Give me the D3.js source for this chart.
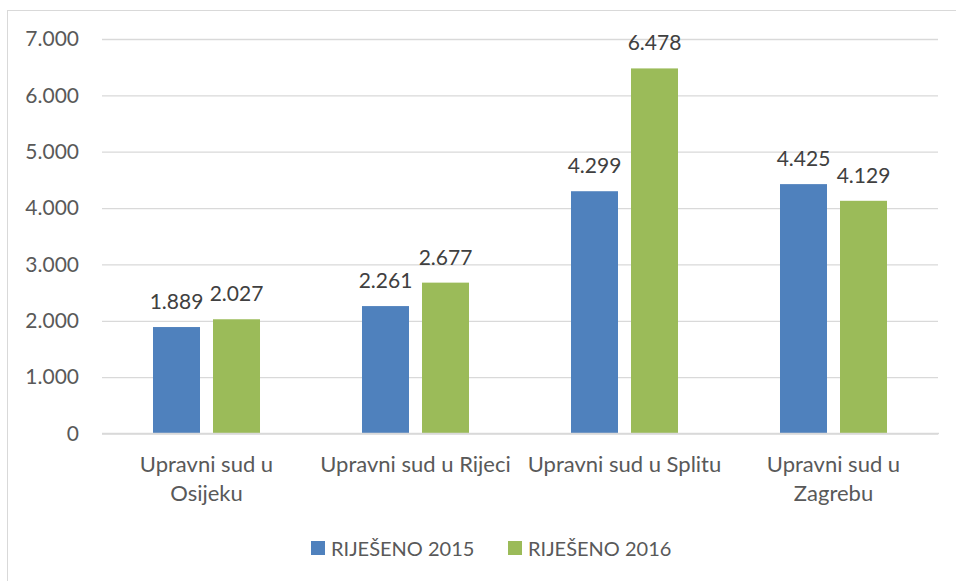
<!DOCTYPE html>
<html>
<head>
<meta charset="utf-8">
<script src="https://cdn.jsdelivr.net/npm/d3@7"></script>
<style>
  html, body { margin: 0; padding: 0; background: #fff; overflow: hidden; }
  svg { display: block; font-family: Lato, "Open Sans", sans-serif; }
</style>
</head>
<body>
<svg id="chart" width="956" height="581"></svg>
<script>
// ---- data ----
const categories = ["Upravni sud u Osijeku", "Upravni sud u Rijeci", "Upravni sud u Splitu", "Upravni sud u Zagrebu"];
const categoryLines = [["Upravni sud u", "Osijeku"], ["Upravni sud u Rijeci"], ["Upravni sud u Splitu"], ["Upravni sud u", "Zagrebu"]];
const seriesNames = ["RIJEŠENO 2015", "RIJEŠENO 2016"];
const values2015 = [1889, 2261, 4299, 4425];
const values2016 = [2027, 2677, 6478, 4129];
const yTicks = [0, 1000, 2000, 3000, 4000, 5000, 6000, 7000];
const colors = ["#4F81BD", "#9BBB59"];

// ---- layout ----
const svg = d3.select("#chart");
const plot = { left: 102, right: 938, top: 39, bottom: 433.5 };

svg.append("rect")
  .attr("x", 7.5).attr("y", 10.5)
  .attr("width", 1000).attr("height", 700)
  .attr("fill", "#fff").attr("stroke", "#D9D9D9").attr("stroke-width", 1);

const x0 = d3.scaleBand().domain(categories).range([plot.left, plot.right])
  .paddingInner(0.488).paddingOuter(0.244);
const x1 = d3.scaleBand().domain(seriesNames).range([0, x0.bandwidth()])
  .paddingInner(0.2167).paddingOuter(0);
const y = d3.scaleLinear().domain([0, 7000]).range([plot.bottom, plot.top]);

const fmt = v => d3.format(",")(v).replace(/,/g, ".");

// gridlines + y tick labels
const yAxis = d3.axisLeft(y).tickValues(yTicks).tickFormat(fmt)
  .tickSize(-(plot.right - plot.left)).tickPadding(23);
const gy = svg.append("g").attr("transform", `translate(${plot.left},0)`).call(yAxis);
gy.select(".domain").remove();
gy.selectAll(".tick line").attr("stroke", "#D9D9D9").attr("stroke-width", 1.3);
gy.selectAll(".tick text").attr("fill", "#595959").attr("font-size", 21)
  .attr("font-family", "Lato, 'Open Sans', sans-serif");

// bars
const rows = categories.map((c, i) => ({ cat: c, vals: [values2015[i], values2016[i]] }));
const groups = svg.append("g").selectAll("g").data(rows).join("g")
  .attr("transform", d => `translate(${x0(d.cat)},0)`);

groups.selectAll("rect").data(d => d.vals.map((v, j) => ({ s: seriesNames[j], v, j })))
  .join("rect")
  .attr("x", d => x1(d.s))
  .attr("y", d => y(d.v))
  .attr("width", x1.bandwidth())
  .attr("height", d => y(0) - y(d.v))
  .attr("fill", d => colors[d.j]);

groups.selectAll("text.lbl").data(d => d.vals.map((v, j) => ({ s: seriesNames[j], v, j })))
  .join("text").attr("class", "lbl")
  .attr("x", d => x1(d.s) + x1.bandwidth() / 2)
  .attr("y", d => y(d.v) - 18)
  .attr("text-anchor", "middle")
  .attr("font-size", 21)
  .attr("fill", "#404040")
  .text(d => fmt(d.v));

// x baseline
svg.append("line")
  .attr("x1", plot.left).attr("x2", plot.right + 1)
  .attr("y1", y(0)).attr("y2", y(0))
  .attr("stroke", "#D9D9D9").attr("stroke-width", 1.5);

// category labels
const catG = svg.append("g");
categories.forEach((c, i) => {
  const t = catG.append("text")
    .attr("x", x0(c) + x0.bandwidth() / 2)
    .attr("y", 472)
    .attr("text-anchor", "middle")
    .attr("font-size", 22)
    .attr("fill", "#595959");
  categoryLines[i].forEach((ln, k) => {
    t.append("tspan").attr("x", x0(c) + x0.bandwidth() / 2).attr("dy", k === 0 ? 0 : 29).text(ln);
  });
});

// legend
const legendX = [311, 508];
const legend = svg.append("g");
seriesNames.forEach((s, j) => {
  legend.append("rect").attr("x", legendX[j]).attr("y", 541)
    .attr("width", 14).attr("height", 14).attr("fill", colors[j]);
  legend.append("text").attr("x", legendX[j] + 20).attr("y", 555.5)
    .attr("font-size", 20).attr("fill", "#595959").text(s);
});
</script>
</body>
</html>
